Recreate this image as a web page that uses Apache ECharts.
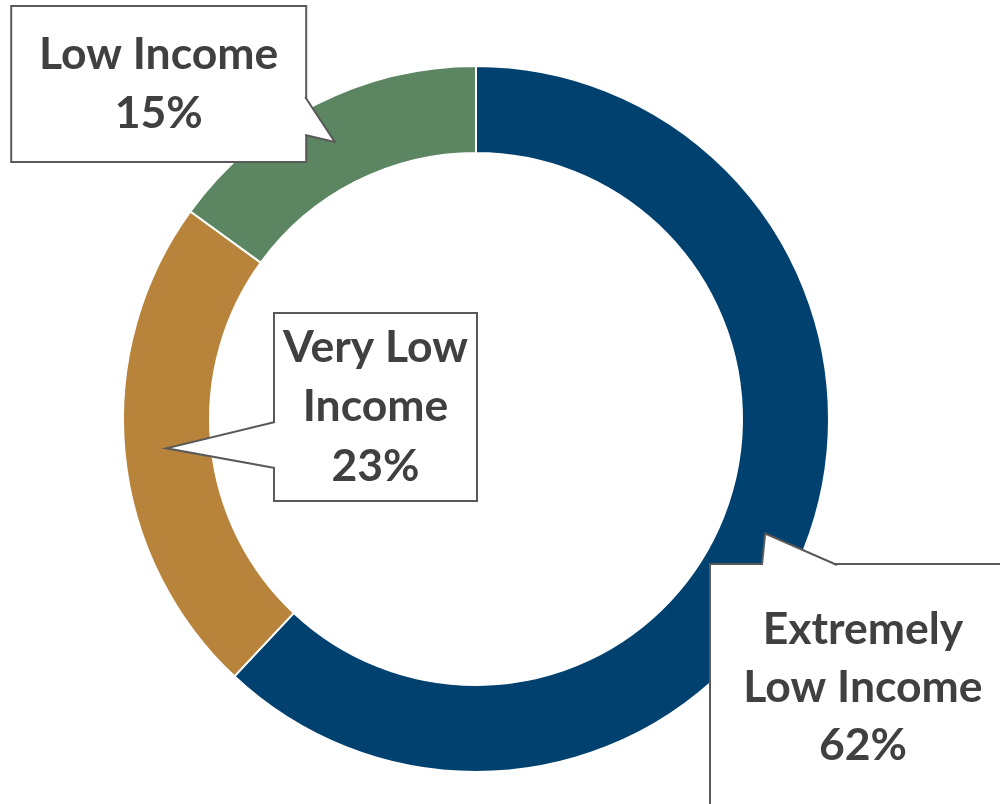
<!DOCTYPE html>
<html>
<head>
<meta charset="utf-8">
<script src="https://cdn.jsdelivr.net/npm/echarts@6/dist/echarts.min.js"></script>
<style>html,body{margin:0;padding:0;background:#fff;}#c{width:1000px;height:804px;}</style>
</head>
<body>
<div id="c"></div>
<script>
// ---- data ----
var categories = ['Extremely Low Income', 'Very Low Income', 'Low Income'];
var labelTexts = ['Extremely\nLow Income', 'Very Low\nIncome', 'Low Income'];
var values = [62, 23, 15];
var colors = ['#004170', '#B8843C', '#5B8661'];

// ---- layout (styles) ----
var center = [476, 419];
var radii = [266, 353];
// callout boxes: centre, size, line height, pointer base on one side
var boxes = [
  { cx: 863, cy: 688, w: 304, h: 246, lh: 58, side: 'top', a: 762, b: 837 },
  { cx: 375.5, cy: 407, w: 201, h: 186, lh: 59.5, side: 'left', a: 422, b: 468 },
  { cx: 158.7, cy: 84, w: 293, h: 154, lh: 59.5, side: 'right', a: 97, b: 135 }
];

var total = values.reduce(function (s, v) { return s + v; }, 0);

var data = categories.map(function (c, i) {
  var bx = boxes[i];
  var nLines = labelTexts[i].split('\n').length + 1;
  var padV = (bx.h - nLines * bx.lh) / 2;
  return {
    name: c,
    value: values[i],
    itemStyle: { color: colors[i] },
    label: {
      formatter: labelTexts[i] + '\n' + values[i] + '%',
      width: bx.w,
      height: nLines * bx.lh,
      lineHeight: bx.lh,
      padding: [padV, 0, padV, 0]
    }
  };
});

// pointer wedges: tip at slice mid-angle, middle of the ring
function wedges() {
  var els = [];
  var cum = 0;
  var rt = (radii[0] + radii[1]) / 2 + 1.5;
  values.forEach(function (v, i) {
    var mid = (90 - 360 * (cum + v / 2) / total) * Math.PI / 180;
    cum += v;
    var tip = [center[0] + rt * Math.cos(mid), center[1] - rt * Math.sin(mid)];
    var bx = boxes[i];
    var p1, p2, q1, q2, e = 3;
    if (bx.side === 'top') {
      var y = bx.cy - bx.h / 2;
      p1 = [bx.a, y]; p2 = [bx.b, y]; q1 = [bx.a, y + e]; q2 = [bx.b, y + e];
    } else if (bx.side === 'left') {
      var x = bx.cx - bx.w / 2;
      p1 = [x, bx.a]; p2 = [x, bx.b]; q1 = [x + e, bx.a]; q2 = [x + e, bx.b];
    } else {
      var x2 = bx.cx + bx.w / 2;
      p1 = [x2, bx.a]; p2 = [x2, bx.b]; q1 = [x2 - e, bx.a]; q2 = [x2 - e, bx.b];
    }
    els.push({
      type: 'polygon', z: 100, silent: true,
      shape: { points: [q1, p1, tip, p2, q2] },
      style: { fill: '#ffffff', stroke: null }
    });
    els.push({
      type: 'polyline', z: 101, silent: true,
      shape: { points: [p1, tip, p2] },
      style: { fill: null, stroke: '#595959', lineWidth: 2, lineJoin: 'miter' }
    });
  });
  return els;
}

var chart = echarts.init(document.getElementById('c'));
chart.setOption({
  backgroundColor: '#ffffff',
  animation: false,
  series: [{
    type: 'pie',
    center: center,
    radius: radii,
    startAngle: 90,
    clockwise: true,
    avoidLabelOverlap: false,
    itemStyle: { borderColor: '#ffffff', borderWidth: 2 },
    emphasis: { disabled: true },
    label: {
      show: true,
      position: 'outside',
      fontFamily: 'Lato',
      fontWeight: 'bold',
      fontSize: 44.5,
      color: '#404040',
      align: 'center',
      overflow: 'none',
      backgroundColor: '#ffffff',
      borderColor: '#595959',
      borderWidth: 2
    },
    labelLine: { show: false },
    labelLayout: function (p) {
      var bx = boxes[p.dataIndex];
      return { x: bx.cx, y: bx.cy, align: 'center', verticalAlign: 'middle' };
    },
    data: data
  }],
  graphic: { elements: wedges() }
});
</script>
</body>
</html>
